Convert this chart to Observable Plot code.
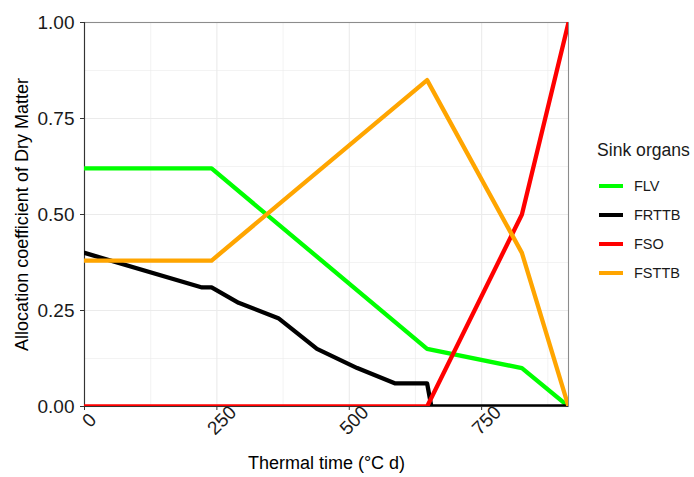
<!DOCTYPE html>
<html>
<head>
<meta charset="utf-8">
<script src="https://cdn.jsdelivr.net/npm/d3@7"></script>
<script src="https://cdn.jsdelivr.net/npm/@observablehq/plot@0.6"></script>
<style>
  html, body { margin: 0; padding: 0; background: #fff; }
  #wrap { position: relative; width: 694px; height: 477px; font-family: "Liberation Sans", Arial, sans-serif; }
  #legend { position: absolute; left: 597px; top: 140px; color: #1a1a1a; }
  #legend .title { font-size: 17.6px; line-height: 20px; margin-bottom: 11px; }
  #legend .item { display: flex; align-items: center; height: 29px; }
  #legend .key { width: 24px; height: 4px; margin-left: 2px; margin-right: 11px; }
  #legend .lab { font-size: 14.5px; }
</style>
</head>
<body>
<div id="wrap"></div>
<script>
// Partitioning of dry matter between sink organs over thermal time
const organs = ["FLV", "FRTTB", "FSO", "FSTTB"];
const organColors = ["#00FF00", "#000000", "#FF0000", "#FFA500"];

const flvTime = [0, 240, 647, 826, 914];
const flvValue = [0.62, 0.62, 0.15, 0.10, 0];

const frttbTime = [0, 222, 240, 291, 366, 439, 515, 587, 647, 655, 914];
const frttbValue = [0.40, 0.31, 0.31, 0.27, 0.23, 0.15, 0.10, 0.06, 0.06, 0, 0];

const fsoTime = [0, 647, 826, 914];
const fsoValue = [0, 0, 0.50, 1.00];

const fsttbTime = [0, 240, 647, 826, 914];
const fsttbValue = [0.38, 0.38, 0.85, 0.40, 0];

const xTicks = [0, 250, 500, 750];
const xMinor = [125, 375, 625, 875];
const yTicks = [0, 0.25, 0.5, 0.75, 1];
const yMinor = [0.125, 0.375, 0.625, 0.875];

const xLabel = "Thermal time (°C d)";
const yLabel = "Allocation coefficient of Dry Matter";
const legendTitle = "Sink organs";

const series = [
  ["FLV", flvTime, flvValue],
  ["FRTTB", frttbTime, frttbValue],
  ["FSO", fsoTime, fsoValue],
  ["FSTTB", fsttbTime, fsttbValue]
];
const rows = series.flatMap(([organ, t, v]) => t.map((time, i) => ({organ, time, value: v[i]})));

const plot = Plot.plot({
  width: 694,
  height: 477,
  marginLeft: 84,
  marginRight: 126,
  marginTop: 22,
  marginBottom: 71,
  style: {fontFamily: "Liberation Sans, Arial, sans-serif", background: "white", color: "#1a1a1a"},
  x: {domain: [0, 914]},
  y: {domain: [0, 1]},
  color: {domain: organs, range: organColors},
  marks: [
    Plot.gridX(xMinor, {stroke: "#EBEBEB", strokeOpacity: 1, strokeWidth: 0.6}),
    Plot.gridY(yMinor, {stroke: "#EBEBEB", strokeOpacity: 1, strokeWidth: 0.6}),
    Plot.gridX(xTicks, {stroke: "#EBEBEB", strokeOpacity: 1, strokeWidth: 1.1}),
    Plot.gridY(yTicks, {stroke: "#EBEBEB", strokeOpacity: 1, strokeWidth: 1.1}),
    Plot.frame({stroke: "#8c8c8c", strokeWidth: 1.1}),
    Plot.ruleX([0], {stroke: "#333333", strokeWidth: 1.1}),
    Plot.ruleY([0], {stroke: "#333333", strokeWidth: 1.1}),
    Plot.line(rows, {x: "time", y: "value", z: "organ", stroke: "organ", strokeWidth: 4.3, clip: true}),
    Plot.axisY(yTicks, {tickSize: 4, tickPadding: 6, fontSize: 19, tickFormat: d3.format(".2f"), stroke: "#333333", label: null}),
    Plot.axisX(xTicks, {tickSize: 4, tickFormat: () => "", stroke: "#333333", label: null}),
    Plot.text(xTicks, {x: d => d, frameAnchor: "bottom", text: d => String(d), dx: 5, dy: 14, rotate: -45, fontSize: 19, textAnchor: "middle", lineAnchor: "middle", fill: "#1a1a1a"}),
    Plot.text([xLabel], {frameAnchor: "bottom", dy: 57, fontSize: 18, textAnchor: "middle", lineAnchor: "middle", fill: "#000"}),
    Plot.text([yLabel], {frameAnchor: "left", dx: -62, rotate: -90, fontSize: 18, textAnchor: "middle", lineAnchor: "middle", fill: "#000"})
  ]
});

const wrap = document.getElementById("wrap");
wrap.appendChild(plot);

// Legend for the sink organs, using the plot's color scale
const colorScale = plot.scale("color");
const legend = document.createElement("div");
legend.id = "legend";
const title = document.createElement("div");
title.className = "title";
title.textContent = legendTitle;
legend.appendChild(title);
colorScale.domain.forEach((organ, i) => {
  const item = document.createElement("div");
  item.className = "item";
  const key = document.createElement("div");
  key.className = "key";
  key.style.background = colorScale.range[i];
  const lab = document.createElement("span");
  lab.className = "lab";
  lab.textContent = organ;
  item.appendChild(key);
  item.appendChild(lab);
  legend.appendChild(item);
});
wrap.appendChild(legend);
</script>
</body>
</html>
